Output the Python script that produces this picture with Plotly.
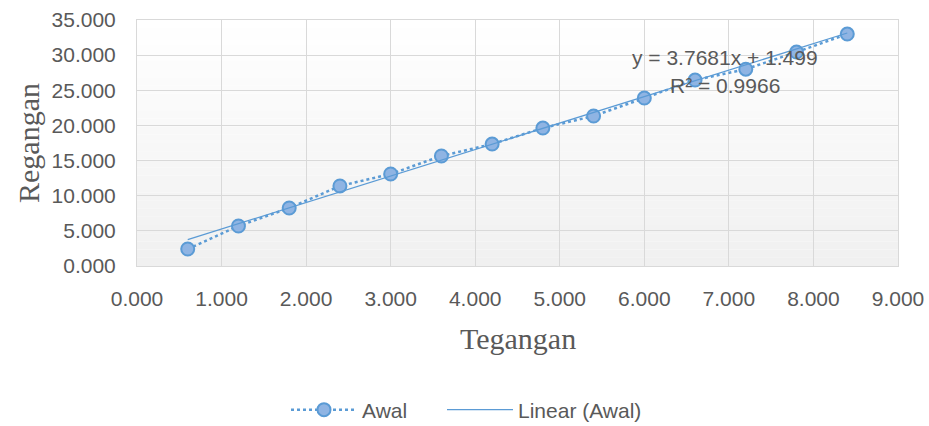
import plotly.graph_objects as go

# Data
tegangan = [0.6, 1.2, 1.8, 2.4, 3.0, 3.6, 4.2, 4.8, 5.4, 6.0, 6.6, 7.2, 7.8, 8.4]
regangan = [2.42, 5.69, 8.25, 11.38, 13.09, 15.65, 17.35, 19.63, 21.34, 23.9, 26.46, 28.0, 30.44, 33.0]
slope = 3.7681
intercept = 1.499
r2 = 0.9966
x_ticks = [0, 1, 2, 3, 4, 5, 6, 7, 8, 9]
y_ticks = [0, 5, 10, 15, 20, 25, 30, 35]

trend_x = [tegangan[0], tegangan[-1]]
trend_y = [slope * v + intercept for v in trend_x]

BLUE = "#5b9bd5"
GRAY = "#595959"

W, H = 929, 426
L, R, T, B = 137, 31, 20, 160
PW, PH = W - L - R, H - T - B


def px(xp):
    return (xp - L) / PW


def py(yp):
    return (H - B - yp) / PH


fig = go.Figure()
fig.add_trace(go.Scatter(
    x=tegangan, y=regangan, name="Awal", mode="lines+markers",
    line=dict(color=BLUE, width=2.5, dash="dot"),
    marker=dict(size=13, color="#8fb4e3", line=dict(color=BLUE, width=2)),
    legend="legend",
))
fig.add_trace(go.Scatter(
    x=trend_x, y=trend_y, name="Linear (Awal)", mode="lines",
    line=dict(color=BLUE, width=1.3),
    legend="legend2",
))

# gradient plot background
n = 30
shapes = []
for i in range(n):
    t = i / (n - 1)
    c = int(round(255 - (255 - 240) * (1 - t)))
    shapes.append(dict(type="rect", xref="x domain", yref="y domain",
                       x0=0, x1=1, y0=i / n, y1=(i + 1) / n,
                       fillcolor=f"rgb({c},{c},{c})", line=dict(width=0),
                       layer="below"))

legend_common = dict(orientation="h", xanchor="left", xref="paper",
                     y=1 - 410 / H, yref="container", yanchor="middle",
                     font=dict(family="Liberation Sans", size=21, color=GRAY),
                     itemwidth=66, bgcolor="rgba(0,0,0,0)")

fig.update_layout(
    width=W, height=H,
    margin=dict(l=L, r=R, t=T, b=B),
    paper_bgcolor="white", plot_bgcolor="white",
    shapes=shapes,
    showlegend=True,
    legend=dict(x=px(286), **legend_common),
    legend2=dict(x=px(442), **legend_common),
    annotations=[
        dict(text=f"y = {slope}x + {intercept}", x=px(725), y=py(57), xref="paper", yref="paper",
             xanchor="center", yanchor="middle",
             showarrow=False, font=dict(family="Liberation Sans", size=21, color=GRAY)),
        dict(text=f"R² = {r2}", x=px(725), y=py(85), xref="paper", yref="paper",
             xanchor="center", yanchor="middle", showarrow=False,
             font=dict(family="Liberation Sans", size=21, color=GRAY)),
        dict(text="Tegangan", x=px(518), xref="paper", y=py(338), yref="paper",
             xanchor="center", yanchor="middle", showarrow=False,
             font=dict(family="Liberation Serif", size=30, color=GRAY)),
        dict(text="Regangan", x=px(28), xref="paper", y=py(143), yref="paper",
             xanchor="center", yanchor="middle", textangle=-90, showarrow=False,
             font=dict(family="Liberation Serif", size=30, color=GRAY)),
    ],
)

fig.update_xaxes(range=[0, 9], tickvals=x_ticks, ticktext=[f"{v:.3f}" for v in x_ticks],
                 showgrid=True, gridcolor="#d9d9d9", gridwidth=1, zeroline=False,
                 showline=True, linecolor="#d9d9d9", mirror=True, automargin=False,
                 ticks="outside", ticklen=14, tickcolor="rgba(0,0,0,0)",
                 tickfont=dict(family="Liberation Sans", size=21, color=GRAY))
fig.update_yaxes(range=[0, 35], tickvals=y_ticks, ticktext=[f"{v:.3f}" for v in y_ticks],
                 showgrid=True, gridcolor="#d9d9d9", gridwidth=1, zeroline=False,
                 showline=True, linecolor="#d9d9d9", mirror=True, automargin=False,
                 ticks="outside", ticklen=16, tickcolor="rgba(0,0,0,0)",
                 tickfont=dict(family="Liberation Sans", size=21, color=GRAY))

fig.write_html("out.html", config={"displayModeBar": False},
               post_script="document.body.style.margin='0';")
